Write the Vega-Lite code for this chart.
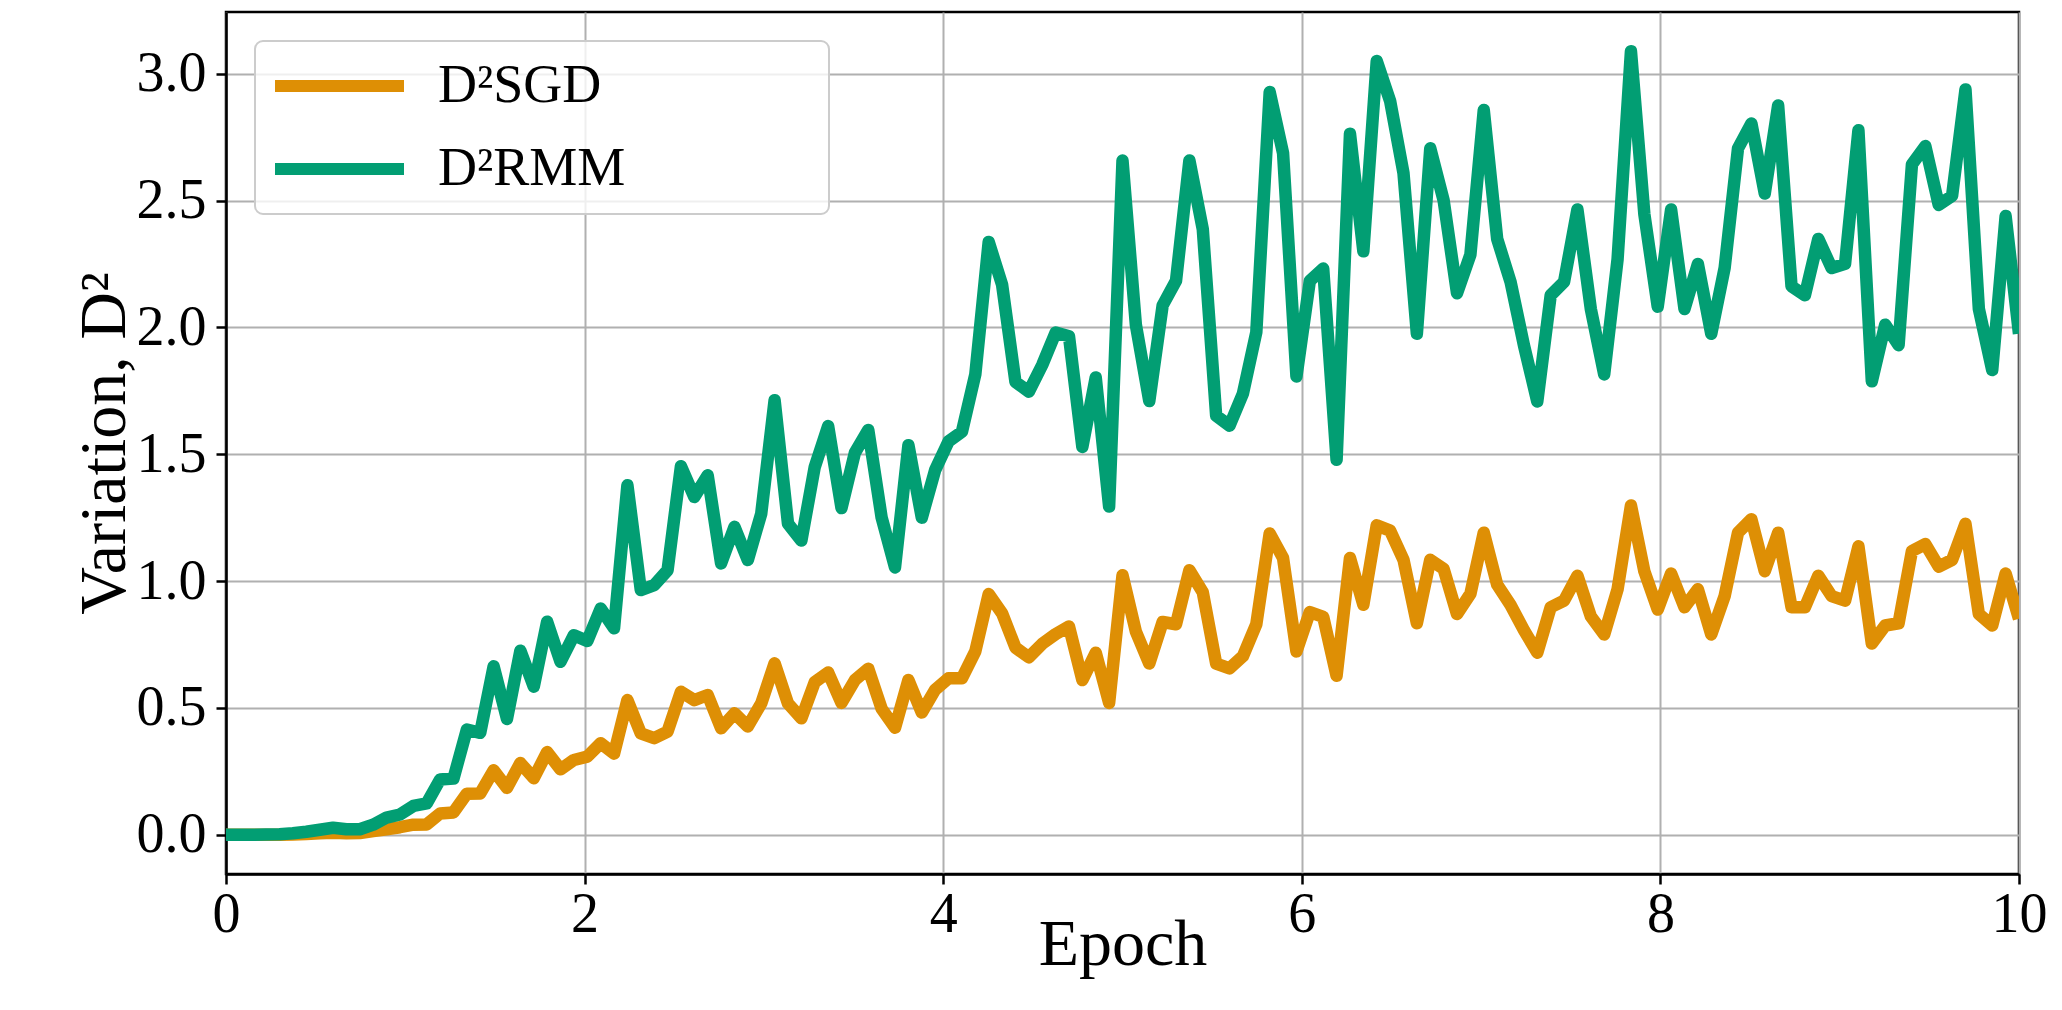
{
  "$schema": "https://vega.github.io/schema/vega-lite/v6.json",
  "width": 1793,
  "height": 862,
  "autosize": {"type": "none"},
  "padding": {"left": 226, "top": 12, "right": 43, "bottom": 136},
  "background": "white",
  "config": {
    "font": "Liberation Serif",
    "view": {"stroke": "black", "strokeWidth": 2.5},
    "legend": {"strokeWidth": 2},
    "axis": {
      "labelFont": "Liberation Serif",
      "labelFontSize": 56,
      "labelColor": "black",
      "labelFlush": false,
      "titleFont": "Liberation Serif",
      "titleFontSize": 66,
      "titleFontWeight": "normal",
      "titleColor": "black",
      "domainColor": "black",
      "domainWidth": 2.5,
      "tickColor": "black",
      "tickWidth": 2.5,
      "tickSize": 10,
      "gridColor": "#b0b0b0",
      "gridWidth": 2,
      "gridOpacity": 1
    }
  },
  "data": {
    "values": [
      {"epoch": 0, "SGD": 0, "RMM": 0},
      {"epoch": 0.0746, "SGD": 0, "RMM": 0},
      {"epoch": 0.1493, "SGD": 0, "RMM": 0},
      {"epoch": 0.2239, "SGD": 0, "RMM": 0.001},
      {"epoch": 0.2985, "SGD": 0, "RMM": 0.002},
      {"epoch": 0.3731, "SGD": 0.001, "RMM": 0.006},
      {"epoch": 0.4478, "SGD": 0.003, "RMM": 0.012},
      {"epoch": 0.5224, "SGD": 0.006, "RMM": 0.02},
      {"epoch": 0.597, "SGD": 0.008, "RMM": 0.028},
      {"epoch": 0.6716, "SGD": 0.006, "RMM": 0.022},
      {"epoch": 0.7463, "SGD": 0.007, "RMM": 0.022},
      {"epoch": 0.8209, "SGD": 0.015, "RMM": 0.04},
      {"epoch": 0.8955, "SGD": 0.022, "RMM": 0.068},
      {"epoch": 0.9701, "SGD": 0.03, "RMM": 0.08},
      {"epoch": 1.0448, "SGD": 0.04, "RMM": 0.114},
      {"epoch": 1.1194, "SGD": 0.041, "RMM": 0.124},
      {"epoch": 1.194, "SGD": 0.084, "RMM": 0.218},
      {"epoch": 1.2687, "SGD": 0.088, "RMM": 0.222},
      {"epoch": 1.3433, "SGD": 0.162, "RMM": 0.415},
      {"epoch": 1.4179, "SGD": 0.163, "RMM": 0.402},
      {"epoch": 1.4925, "SGD": 0.254, "RMM": 0.664},
      {"epoch": 1.5672, "SGD": 0.185, "RMM": 0.457},
      {"epoch": 1.6418, "SGD": 0.283, "RMM": 0.726},
      {"epoch": 1.7164, "SGD": 0.223, "RMM": 0.584},
      {"epoch": 1.791, "SGD": 0.326, "RMM": 0.84},
      {"epoch": 1.8657, "SGD": 0.258, "RMM": 0.682},
      {"epoch": 1.9403, "SGD": 0.295, "RMM": 0.787},
      {"epoch": 2.0149, "SGD": 0.308, "RMM": 0.764},
      {"epoch": 2.0896, "SGD": 0.361, "RMM": 0.892},
      {"epoch": 2.1642, "SGD": 0.32, "RMM": 0.814},
      {"epoch": 2.2388, "SGD": 0.531, "RMM": 1.378},
      {"epoch": 2.3134, "SGD": 0.4, "RMM": 0.965},
      {"epoch": 2.3881, "SGD": 0.381, "RMM": 0.984},
      {"epoch": 2.4627, "SGD": 0.407, "RMM": 1.043},
      {"epoch": 2.5373, "SGD": 0.564, "RMM": 1.453},
      {"epoch": 2.6119, "SGD": 0.531, "RMM": 1.332},
      {"epoch": 2.6866, "SGD": 0.551, "RMM": 1.417},
      {"epoch": 2.7612, "SGD": 0.42, "RMM": 1.07},
      {"epoch": 2.8358, "SGD": 0.479, "RMM": 1.214},
      {"epoch": 2.9104, "SGD": 0.427, "RMM": 1.083},
      {"epoch": 2.9851, "SGD": 0.518, "RMM": 1.266},
      {"epoch": 3.0597, "SGD": 0.676, "RMM": 1.713},
      {"epoch": 3.1343, "SGD": 0.518, "RMM": 1.227},
      {"epoch": 3.209, "SGD": 0.459, "RMM": 1.16},
      {"epoch": 3.2836, "SGD": 0.602, "RMM": 1.45},
      {"epoch": 3.3582, "SGD": 0.64, "RMM": 1.611},
      {"epoch": 3.4328, "SGD": 0.52, "RMM": 1.288},
      {"epoch": 3.5075, "SGD": 0.61, "RMM": 1.506},
      {"epoch": 3.5821, "SGD": 0.655, "RMM": 1.596},
      {"epoch": 3.6567, "SGD": 0.497, "RMM": 1.25},
      {"epoch": 3.7313, "SGD": 0.422, "RMM": 1.054},
      {"epoch": 3.806, "SGD": 0.61, "RMM": 1.536},
      {"epoch": 3.8806, "SGD": 0.482, "RMM": 1.25},
      {"epoch": 3.9552, "SGD": 0.572, "RMM": 1.438},
      {"epoch": 4.0299, "SGD": 0.617, "RMM": 1.551},
      {"epoch": 4.1045, "SGD": 0.617, "RMM": 1.589},
      {"epoch": 4.1791, "SGD": 0.723, "RMM": 1.815},
      {"epoch": 4.2537, "SGD": 0.949, "RMM": 2.337},
      {"epoch": 4.3284, "SGD": 0.873, "RMM": 2.169},
      {"epoch": 4.403, "SGD": 0.738, "RMM": 1.785},
      {"epoch": 4.4776, "SGD": 0.7, "RMM": 1.747},
      {"epoch": 4.5522, "SGD": 0.753, "RMM": 1.852},
      {"epoch": 4.6269, "SGD": 0.791, "RMM": 1.98},
      {"epoch": 4.7015, "SGD": 0.821, "RMM": 1.965},
      {"epoch": 4.7761, "SGD": 0.61, "RMM": 1.529},
      {"epoch": 4.8507, "SGD": 0.718, "RMM": 1.803},
      {"epoch": 4.9254, "SGD": 0.52, "RMM": 1.294},
      {"epoch": 5.0, "SGD": 1.023, "RMM": 2.658},
      {"epoch": 5.0746, "SGD": 0.801, "RMM": 2.01},
      {"epoch": 5.1493, "SGD": 0.675, "RMM": 1.71},
      {"epoch": 5.2239, "SGD": 0.839, "RMM": 2.087},
      {"epoch": 5.2985, "SGD": 0.83, "RMM": 2.184},
      {"epoch": 5.3731, "SGD": 1.043, "RMM": 2.658},
      {"epoch": 5.4478, "SGD": 0.956, "RMM": 2.387},
      {"epoch": 5.5224, "SGD": 0.675, "RMM": 1.652},
      {"epoch": 5.597, "SGD": 0.656, "RMM": 1.613},
      {"epoch": 5.6716, "SGD": 0.704, "RMM": 1.739},
      {"epoch": 5.7463, "SGD": 0.83, "RMM": 1.981},
      {"epoch": 5.8209, "SGD": 1.188, "RMM": 2.928},
      {"epoch": 5.8955, "SGD": 1.091, "RMM": 2.687},
      {"epoch": 5.9701, "SGD": 0.723, "RMM": 1.807},
      {"epoch": 6.0448, "SGD": 0.878, "RMM": 2.184},
      {"epoch": 6.1194, "SGD": 0.859, "RMM": 2.232},
      {"epoch": 6.194, "SGD": 0.627, "RMM": 1.478},
      {"epoch": 6.2687, "SGD": 1.091, "RMM": 2.764},
      {"epoch": 6.3433, "SGD": 0.907, "RMM": 2.3},
      {"epoch": 6.4179, "SGD": 1.22, "RMM": 3.05},
      {"epoch": 6.4925, "SGD": 1.199, "RMM": 2.893},
      {"epoch": 6.5672, "SGD": 1.084, "RMM": 2.608},
      {"epoch": 6.6418, "SGD": 0.834, "RMM": 1.975},
      {"epoch": 6.7164, "SGD": 1.084, "RMM": 2.706},
      {"epoch": 6.791, "SGD": 1.048, "RMM": 2.501},
      {"epoch": 6.8657, "SGD": 0.87, "RMM": 2.135},
      {"epoch": 6.9403, "SGD": 0.95, "RMM": 2.287},
      {"epoch": 7.0149, "SGD": 1.191, "RMM": 2.857},
      {"epoch": 7.0896, "SGD": 0.986, "RMM": 2.349},
      {"epoch": 7.1642, "SGD": 0.906, "RMM": 2.18},
      {"epoch": 7.2388, "SGD": 0.807, "RMM": 1.93},
      {"epoch": 7.3134, "SGD": 0.718, "RMM": 1.708},
      {"epoch": 7.3881, "SGD": 0.897, "RMM": 2.127},
      {"epoch": 7.4627, "SGD": 0.923, "RMM": 2.18},
      {"epoch": 7.5373, "SGD": 1.021, "RMM": 2.465},
      {"epoch": 7.6119, "SGD": 0.861, "RMM": 2.073},
      {"epoch": 7.6866, "SGD": 0.79, "RMM": 1.815},
      {"epoch": 7.7612, "SGD": 0.968, "RMM": 2.269},
      {"epoch": 7.8358, "SGD": 1.298, "RMM": 3.089},
      {"epoch": 7.9104, "SGD": 1.039, "RMM": 2.447},
      {"epoch": 7.9851, "SGD": 0.888, "RMM": 2.082},
      {"epoch": 8.0597, "SGD": 1.03, "RMM": 2.465},
      {"epoch": 8.1343, "SGD": 0.897, "RMM": 2.073},
      {"epoch": 8.209, "SGD": 0.968, "RMM": 2.25},
      {"epoch": 8.2836, "SGD": 0.79, "RMM": 1.975},
      {"epoch": 8.3582, "SGD": 0.941, "RMM": 2.234},
      {"epoch": 8.4328, "SGD": 1.191, "RMM": 2.706},
      {"epoch": 8.5075, "SGD": 1.244, "RMM": 2.804},
      {"epoch": 8.5821, "SGD": 1.039, "RMM": 2.528},
      {"epoch": 8.6567, "SGD": 1.191, "RMM": 2.875},
      {"epoch": 8.7313, "SGD": 0.897, "RMM": 2.162},
      {"epoch": 8.806, "SGD": 0.897, "RMM": 2.127},
      {"epoch": 8.8806, "SGD": 1.021, "RMM": 2.349},
      {"epoch": 8.9552, "SGD": 0.941, "RMM": 2.234},
      {"epoch": 9.0299, "SGD": 0.923, "RMM": 2.251},
      {"epoch": 9.1045, "SGD": 1.137, "RMM": 2.777},
      {"epoch": 9.1791, "SGD": 0.754, "RMM": 1.788},
      {"epoch": 9.2537, "SGD": 0.825, "RMM": 2.011},
      {"epoch": 9.3284, "SGD": 0.834, "RMM": 1.93},
      {"epoch": 9.403, "SGD": 1.119, "RMM": 2.643},
      {"epoch": 9.4776, "SGD": 1.146, "RMM": 2.715},
      {"epoch": 9.5522, "SGD": 1.057, "RMM": 2.483},
      {"epoch": 9.6269, "SGD": 1.084, "RMM": 2.519},
      {"epoch": 9.7015, "SGD": 1.226, "RMM": 2.938},
      {"epoch": 9.7761, "SGD": 0.87, "RMM": 2.073},
      {"epoch": 9.8507, "SGD": 0.825, "RMM": 1.832},
      {"epoch": 9.9254, "SGD": 1.03, "RMM": 2.439},
      {"epoch": 10.0, "SGD": 0.852, "RMM": 1.975}
    ]
  },
  "encoding": {
    "x": {
      "field": "epoch",
      "type": "quantitative",
      "scale": {"domain": [0, 10], "nice": false, "zero": false},
      "axis": {
        "title": "Epoch",
        "values": [0, 2, 4, 6, 8, 10],
        "format": "d",
        "labelPadding": 3,
        "titleY": 90,
        "titleBaseline": "alphabetic"
      }
    }
  },
  "layer": [
    {
      "mark": {"type": "line", "strokeWidth": 12.5, "strokeJoin": "round", "strokeCap": "butt", "clip": true},
      "encoding": {
        "y": {
          "field": "SGD",
          "type": "quantitative",
          "scale": {"domain": [-0.1545, 3.2435], "nice": false, "zero": false},
          "axis": {
            "title": "Variation, D²",
            "values": [0, 0.5, 1, 1.5, 2, 2.5, 3],
            "format": ".1f",
            "labelPadding": 10,
            "titleX": -102,
            "titleBaseline": "alphabetic"
          }
        },
        "color": {
          "datum": "SGD",
          "type": "nominal",
          "scale": {"domain": ["SGD", "RMM"], "range": ["#DE8F05", "#029E73"]},
          "legend": {
            "title": null,
            "orient": "top-left",
            "offset": 29,
            "symbolType": "stroke",
            "symbolSize": 16641,
            "symbolStrokeWidth": 12,
            "symbolOpacity": 1,
            "labelFont": "Liberation Serif",
            "labelFontSize": 54,
            "labelColor": "black",
            "labelOffset": 28,
            "labelLimit": 1000,
            "labelExpr": "'D\u00b2' + datum.label + '\u2003\u2003\u2003\u2002\u200b'",
            "padding": 14,
            "clipHeight": 62,
            "rowPadding": 21,
            "fillColor": "rgba(255,255,255,0.8)",
            "strokeColor": "#cccccc",
            "cornerRadius": 8
          }
        }
      }
    },
    {
      "mark": {"type": "line", "strokeWidth": 12.5, "strokeJoin": "round", "strokeCap": "butt", "clip": true},
      "encoding": {
        "y": {
          "field": "RMM",
          "type": "quantitative",
          "scale": {"domain": [-0.1545, 3.2435], "nice": false, "zero": false},
          "axis": {
            "title": "Variation, D²",
            "values": [0, 0.5, 1, 1.5, 2, 2.5, 3],
            "format": ".1f",
            "labelPadding": 10,
            "titleX": -102,
            "titleBaseline": "alphabetic"
          }
        },
        "color": {"datum": "RMM", "type": "nominal"}
      }
    }
  ]
}
